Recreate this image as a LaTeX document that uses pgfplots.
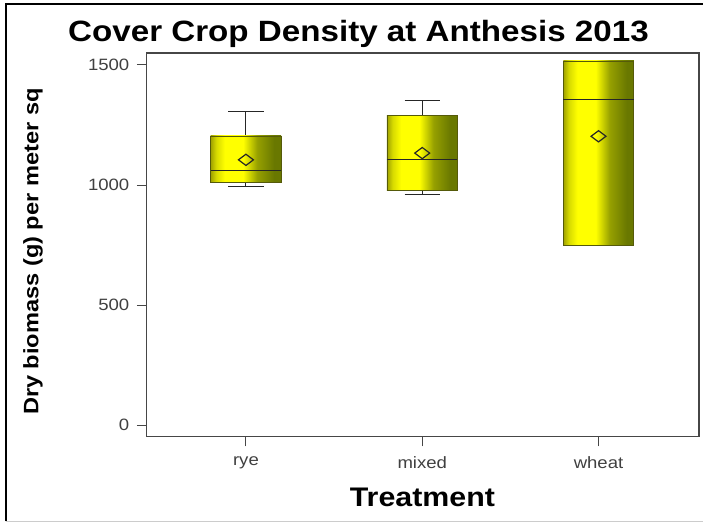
\documentclass[border=0pt]{standalone}
\usepackage{fontspec}
\setmainfont{Liberation Sans}
\usepackage{graphicx}
\usepackage{pgfplots}
\pgfplotsset{compat=1.18}
\usepgfplotslibrary{statistics}

\definecolor{g0}{RGB}{160,162,0}
\definecolor{g1}{RGB}{215,218,0}
\definecolor{g2}{RGB}{255,255,0}
\definecolor{g3}{RGB}{150,160,0}
\definecolor{g4}{RGB}{105,120,0}
\definecolor{boxedge}{RGB}{85,90,10}
\definecolor{axisgray}{RGB}{70,70,70}
\pgfdeclarehorizontalshading{cropgrad}{100bp}{color(0bp)=(g0); color(25bp)=(g0); color(29bp)=(g1); color(35bp)=(g2); color(48bp)=(g2); color(58bp)=(g3); color(70bp)=(g4); color(100bp)=(g4)}

\newcommand{\lab}[1]{\scalebox{1.13}[1]{#1}}

\begin{document}
\begin{tikzpicture}
  % page: 704 x 525 px, axis frame lower left at px (147,437)
  \path[fill=white] (-147bp,-88bp) rectangle (557bp,437bp);
  \draw[black, line width=2bp] (-141bp,-85bp) -- (-141bp,433bp) -- (557bp,433bp);
  \draw[black!20, line width=1.5bp] (-141bp,-85bp) -- (557bp,-85bp);

  \begin{axis}[
    at={(0,0)}, anchor=south west, scale only axis,
    width=553bp, height=384bp,
    xmin=0.4375, xmax=3.57,
    ymin=-46, ymax=1550,
    xtick={1,2,3}, xticklabels={\lab{rye}, \lab{mixed}, \lab{wheat}},
    ytick={0,500,1000,1500}, yticklabels={\lab{0}, \lab{500}, \lab{1000}, \lab{1500}},
    tick align=outside, tick pos=left,
    major tick length=10bp,
    axis line style={draw=axisgray, line width=1.3bp},
    major tick style={draw=axisgray, line width=1bp},
    tick label style={font=\fontsize{16.5}{16.5}\selectfont, text=black!75},
    xticklabel style={yshift=-7bp},
    yticklabel style={xshift=-4bp},
    boxplot/draw direction=y,
    boxplot/box extend=0.4,
    boxplot/whisker extend=0.2,
    boxplot/every box/.style={draw=boxedge, line width=0.6bp, shading=cropgrad},
    boxplot/every median/.style={draw=black!85, line width=1bp},
    boxplot/every whisker/.style={draw=black!85, line width=1bp},
    clip=false,
  ]
    \addplot[draw=black!85, boxplot prepared={draw position=1,
      lower whisker=995, lower quartile=1010, median=1060,
      upper quartile=1205, upper whisker=1308}] coordinates {};
    \addplot[draw=black!85, boxplot prepared={draw position=2,
      lower whisker=962, lower quartile=977, median=1108,
      upper quartile=1290, upper whisker=1350}] coordinates {};
    \addplot[draw=black!85, boxplot prepared={draw position=3,
      lower whisker=749, lower quartile=749, median=1355,
      upper quartile=1517, upper whisker=1517}] coordinates {};
    % means
    \addplot[only marks, mark=diamond, mark size=7.5bp,
      mark options={rotate=90, draw=black!85, fill=none, line width=1.2bp}]
      coordinates {(1,1105) (2,1133) (3,1203)};
  \end{axis}

  \node[font=\bfseries\fontsize{29.5}{29.5}\selectfont] at (212bp,403bp) {\lab{Cover Crop Density at Anthesis 2013}};
  \node[font=\bfseries\fontsize{21}{21}\selectfont, rotate=90] at (-114bp,185bp) {\lab{Dry biomass (g) per meter sq}};
  \node[font=\bfseries\fontsize{27}{27}\selectfont] at (276bp,-61bp) {\lab{Treatment}};
\end{tikzpicture}
\end{document}
